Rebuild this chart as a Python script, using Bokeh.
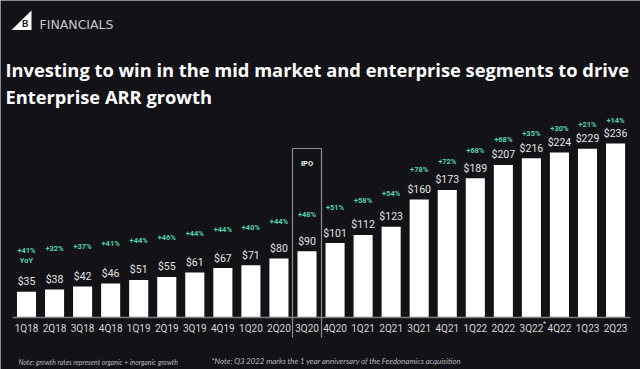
from bokeh.plotting import figure
from bokeh.models import Range1d, ColumnDataSource
from bokeh.core.properties import value
from bokeh.embed import file_html
from bokeh.resources import INLINE

quarters = ["1Q18", "2Q18", "3Q18", "4Q18", "1Q19", "2Q19", "3Q19", "4Q19",
            "1Q20", "2Q20", "3Q20", "4Q20", "1Q21", "2Q21", "3Q21", "4Q21",
            "1Q22", "2Q22", "3Q22", "4Q22", "1Q23", "2Q23"]
arr_musd = [35, 38, 42, 46, 51, 55, 61, 67, 71, 80, 90, 101, 112, 123,
            160, 173, 189, 207, 216, 224, 229, 236]
yoy_growth = ["+41%", "+32%", "+37%", "+41%", "+44%", "+46%", "+44%", "+44%",
              "+40%", "+44%", "+48%", "+51%", "+58%", "+54%", "+78%", "+72%",
              "+68%", "+68%", "+35%", "+30%", "+21%", "+14%"]
ipo_quarter = "3Q20"
starred_quarter = "3Q22"

title_lines = ["Investing to win in the mid market and enterprise segments to drive",
               "Enterprise ARR growth"]
note_left = "Note: growth rates represent organic + inorganic growth"
note_right = "*Note: Q3 2022 marks the 1 year anniversary of the Feedonamics acquisition"

BG = "#131217"
GREEN = "#4fd3ae"
W, H = 640, 369
PX_X = 28.05          # pixels per category slot
PX_Y = 0.737          # pixels per $M
BASE_X, BASE_Y = 26, 317   # canvas position of first slot centre / zero line
X0 = -BASE_X / PX_X
Y0 = -(H - BASE_Y) / PX_Y

def dx(px):
    return (px - BASE_X) / PX_X

def dy(py):
    return (BASE_Y - py) / PX_Y

p = figure(width=W, height=H, output_backend="svg", toolbar_location=None,
           x_range=Range1d(X0, X0 + W / PX_X), y_range=Range1d(Y0, Y0 + H / PX_Y),
           x_axis_location=None, y_axis_location=None, min_border=0,
           background_fill_color=BG, border_fill_color=BG, outline_line_color=None)
p.xgrid.visible = False
p.ygrid.visible = False

idx = list(range(len(quarters)))
src = ColumnDataSource(dict(
    x=idx, q=quarters, v=arr_musd,
    vlab=["$%d" % v for v in arr_musd],
    vy=[v + 10 / PX_Y for v in arr_musd],
    g=yoy_growth,
    gy=[0.88 * v + 60 for v in arr_musd],
))

# bars
p.vbar(x="x", top="v", bottom=0, width=0.68, source=src,
       fill_color="#ffffff", line_color=None)
# baseline
p.segment(x0=[dx(12)], y0=[0], x1=[dx(630)], y1=[0], line_color="#7d7d80", line_width=1.5)

# value labels
p.text(x="x", y="vy", text="vlab", source=src, text_align="center",
       text_baseline="middle", text_color="#e4e4e6",
       text_font=value("Roboto"), text_font_size="10.5px")
# growth labels
p.text(x="x", y="gy", text="g", source=src, text_align="center",
       text_baseline="middle", text_color=GREEN, text_font_style="bold",
       text_font=value("Roboto"), text_font_size="7.5px")
p.text(x=[0], y=[0.88 * arr_musd[0] + 60 - 10 / PX_Y], text=["YoY"], text_align="center",
       text_baseline="middle", text_color=GREEN, text_font_style="bold",
       text_font=value("Roboto"), text_font_size="7.5px")
# category labels
p.text(x="x", y=dy(328), text="q", source=src, text_align="center",
       text_baseline="middle", text_color="#d6d6d8",
       text_font=value("Roboto"), text_font_size="10px")
si = quarters.index(starred_quarter)
p.text(x=[si + 0.47], y=[dy(323)], text=["*"], text_align="center",
       text_baseline="middle", text_color="#d6d6d8",
       text_font=value("Roboto"), text_font_size="7px")

# IPO box
ii = quarters.index(ipo_quarter)
p.multi_line(xs=[[ii - 0.517, ii - 0.517, ii + 0.517, ii + 0.517]],
             ys=[[dy(337), dy(148), dy(148), dy(337)]],
             line_color="#8c8c90", line_width=1.2)
p.text(x=[ii], y=[dy(163)], text=["IPO"], text_align="center", text_baseline="middle",
       text_color="#f0f0f0", text_font_style="bold",
       text_font=value("Roboto"), text_font_size="7.5px")

# title
for line, base in zip(title_lines, [69, 96]):
    p.text(x=[dx(5)], y=[dy(base)], text=[line], text_align="left",
           text_baseline="alphabetic", text_color="#ffffff", text_font_style="bold",
           text_font=value("Open Sans"), text_font_size="18.3px")

# header logo
p.patch(x=[dx(11), dx(31), dx(31)], y=[dy(29.5), dy(29.5), dy(10)],
        fill_color="#ffffff", line_color=None)
p.text(x=[dx(24.5)], y=[dy(22.5)], text=["B"], text_align="center", text_baseline="middle",
       text_color=BG, text_font_style="bold", text_font=value("Lato"), text_font_size="10px")
p.text(x=[dx(39)], y=[dy(23.5)], text=["FINANCIALS"], text_align="left",
       text_baseline="alphabetic", text_color="#c9c9cd",
       text_font=value("DejaVu Sans"), text_font_size="12.5px")

# footnotes
p.text(x=[dx(18)], y=[dy(361)], text=[note_left], text_align="left",
       text_baseline="middle", text_color="#b8b8bc", text_font_style="italic",
       text_font=value("Lato"), text_font_size="6.9px")
p.text(x=[dx(211)], y=[dy(360)], text=[note_right], text_align="left",
       text_baseline="middle", text_color="#b8b8bc", text_font_style="italic",
       text_font=value("Lato"), text_font_size="7.8px")

open("out.html", "w").write(file_html(p, INLINE))
